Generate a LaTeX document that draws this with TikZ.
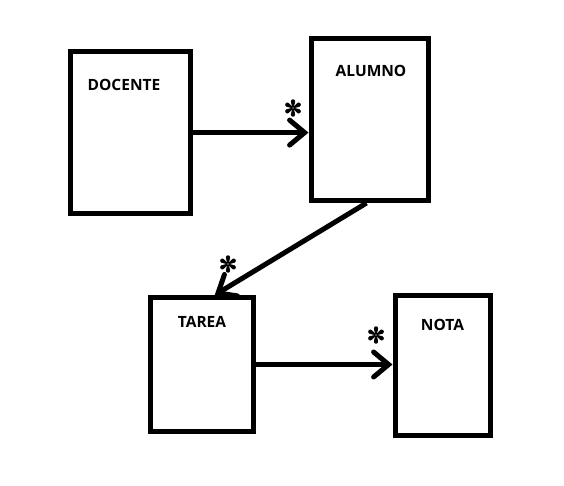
\documentclass[tikz,border=0pt]{standalone}
\usepackage{fontspec}
\setmainfont{Open Sans}
\newfontfamily\symfont{DejaVu Sans}[FakeBold=3]
\usetikzlibrary{arrows.meta,calc}
\begin{document}
\begin{tikzpicture}[x=1pt,y=-1pt,
  entity/.style={draw=black,line width=5pt,fill=white,inner sep=0pt},
  lbl/.style={font=\fontsize{15.5}{18}\selectfont\bfseries,inner sep=0pt,anchor=center},
  mult/.style={font=\symfont\fontsize{22}{22}\selectfont,inner sep=0pt,anchor=center},
  assoc/.style={line width=5pt,-{Straight Barb[length=15pt,width=25pt,line width=5pt,line cap=round]}}
]
\useasboundingbox (0,0) rectangle (564,485);
\node[entity,minimum width=120.8pt,minimum height=161.7pt] (doc) at (130.4,132.6) {};
\node[entity,minimum width=117pt,minimum height=162pt] (alu) at (369.5,119.5) {};
\node[entity,minimum width=102.5pt,minimum height=134pt] (tar) at (201.75,364.5) {};
\node[entity,minimum width=95.5pt,minimum height=140.5pt] (nota) at (442.75,365.25) {};
\node[lbl] (docT) at (124,85) {DOCENTE};
\node[lbl] (aluT) at (371,71) {ALUMNO};
\node[lbl] (tarT) at (202,322) {TAREA};
\node[lbl] (notaT) at (442.5,325) {NOTA};
\draw[assoc] (doc.east) -- (doc.east -| alu.west);
\draw[assoc] ([xshift=-3pt]alu.south) -- ([xshift=13pt]tar.north);
\draw[assoc] (tar.east) -- (tar.east -| nota.west);
\node[mult] (s1) at (293,108) {✼};
\node[mult] (s2) at (228,264) {✼};
\node[mult] (s3) at (376,335) {✼};
\end{tikzpicture}
\end{document}
